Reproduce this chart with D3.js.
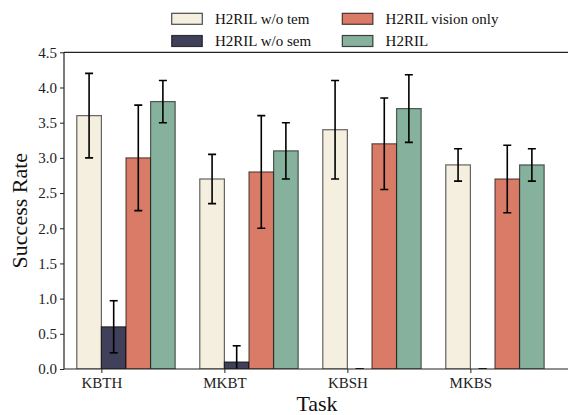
<!DOCTYPE html>
<html>
<head>
<meta charset="utf-8">
<script src="https://cdn.jsdelivr.net/npm/d3@7"></script>
<style>
  body { margin: 0; background: #fff; }
  svg { display: block; }
  svg text { font-family: "Liberation Serif", "Times New Roman", serif; }
</style>
</head>
<body>
<script>
const tasks = ['KBTH', 'MKBT', 'KBSH', 'MKBS'];
const seriesNames = ['H2RIL w/o tem', 'H2RIL w/o sem', 'H2RIL vision only', 'H2RIL'];
const seriesColors = ['#f5efe0', '#40405a', '#d97b66', '#86b19c'];

const woTem = [3.6, 2.7, 3.4, 2.9];
const woTemErr = [0.6, 0.35, 0.7, 0.23];
const woSem = [0.6, 0.1, 0.0, 0.0];
const woSemErr = [0.37, 0.23, 0.0, 0.0];
const visionOnly = [3.0, 2.8, 3.2, 2.7];
const visionOnlyErr = [0.75, 0.8, 0.65, 0.48];
const full = [3.8, 3.1, 3.7, 2.9];
const fullErr = [0.3, 0.4, 0.48, 0.23];

const yTicks = [0, 0.5, 1, 1.5, 2, 2.5, 3, 3.5, 4, 4.5];

const values = [woTem, woSem, visionOnly, full];
const errors = [woTemErr, woSemErr, visionOnlyErr, fullErr];

const width = 568;
const height = 415;
const plotLeft = 64, plotRight = 570, plotTop = 52.3, plotBottom = 369;
const barW = 0.2;
const serif = '"Liberation Serif", "Times New Roman", serif';

const xScale = d3.scaleLinear()
    .domain([-0.304, 3.81])
    .range([plotLeft, plotRight]);

const yScale = d3.scaleLinear()
    .domain([0, 4.5])
    .range([plotBottom, plotTop]);

const svg = d3.select('body')
    .append('svg')
    .attr('width', width)
    .attr('height', height);

svg.append('defs').append('clipPath')
    .attr('id', 'plot')
    .append('rect')
    .attr('x', plotLeft).attr('y', plotTop)
    .attr('width', plotRight - plotLeft).attr('height', plotBottom - plotTop);

// flatten to one record per bar
const bars = [];
values.forEach((vals, s) => {
    vals.forEach((v, t) => {
        bars.push({ s: s, t: t, v: v, e: errors[s][t] });
    });
});

const plot = svg.append('g').attr('clip-path', 'url(#plot)');

plot.selectAll('rect.bar')
    .data(bars)
    .enter()
    .append('rect')
    .attr('class', 'bar')
    .attr('x', d => xScale(d.t + (d.s - 1) * barW))
    .attr('y', d => yScale(d.v))
    .attr('width', d => xScale(barW) - xScale(0))
    .attr('height', d => yScale(0) - yScale(d.v))
    .attr('fill', d => seriesColors[d.s])
    .attr('stroke', '#000')
    .attr('stroke-opacity', 0.6)
    .attr('stroke-width', 1.2);

// error bars
const cap = 4;
const errG = plot.selectAll('g.err')
    .data(bars)
    .enter()
    .append('g')
    .attr('class', 'err')
    .attr('stroke', '#000')
    .attr('stroke-width', 1.6);

errG.append('line')
    .attr('x1', d => xScale(d.t + (d.s - 0.5) * barW))
    .attr('x2', d => xScale(d.t + (d.s - 0.5) * barW))
    .attr('y1', d => yScale(d.v - d.e))
    .attr('y2', d => yScale(d.v + d.e));

[-1, 1].forEach(sign => {
    errG.append('line')
        .attr('x1', d => xScale(d.t + (d.s - 0.5) * barW) - cap)
        .attr('x2', d => xScale(d.t + (d.s - 0.5) * barW) + cap)
        .attr('y1', d => yScale(d.v + sign * d.e))
        .attr('y2', d => yScale(d.v + sign * d.e));
});

// y axis
const yAxis = svg.append('g')
    .attr('transform', `translate(${plotLeft},0)`)
    .call(d3.axisLeft(yScale).tickValues(yTicks).tickFormat(d3.format('.1f')).tickSize(4).tickPadding(3));
yAxis.select('.domain').remove();
yAxis.selectAll('text')
    .style('font-family', serif)
    .style('font-size', '15px')
    .attr('fill', '#222');
yAxis.selectAll('line').attr('stroke', '#222');

// x axis
const xAxis = svg.append('g')
    .attr('transform', `translate(0,${plotBottom})`)
    .call(d3.axisBottom(xScale).tickValues(d3.range(tasks.length)).tickFormat(i => tasks[i]).tickSize(4).tickPadding(4));
xAxis.select('.domain').remove();
xAxis.selectAll('text')
    .style('font-family', serif)
    .style('font-size', '15px')
    .attr('fill', '#222');
xAxis.selectAll('line').attr('stroke', '#222');

// spines
svg.append('line')
    .attr('x1', plotLeft).attr('x2', plotRight)
    .attr('y1', plotBottom).attr('y2', plotBottom)
    .attr('stroke', '#222').attr('stroke-width', 1.2);
svg.append('line')
    .attr('x1', plotLeft).attr('x2', plotRight)
    .attr('y1', plotTop).attr('y2', plotTop)
    .attr('stroke', '#222').attr('stroke-width', 1.2);
svg.append('line')
    .attr('x1', plotLeft).attr('x2', plotLeft)
    .attr('y1', plotTop).attr('y2', plotBottom)
    .attr('stroke', '#222').attr('stroke-width', 1.2);

// axis labels
svg.append('text')
    .attr('x', 317)
    .attr('y', 411)
    .attr('text-anchor', 'middle')
    .attr('font-size', 22)
    .attr('fill', '#111')
    .text('Task');

svg.append('text')
    .attr('transform', `translate(19,${(plotTop + plotBottom) / 2}) rotate(-90)`)
    .attr('text-anchor', 'middle')
    .attr('dominant-baseline', 'central')
    .attr('font-size', 22)
    .attr('fill', '#111')
    .text('Success Rate');

// legend, two columns
const legendPos = [[171.7, 13.3], [171.7, 35.5], [342.3, 13.3], [342.3, 35.5]];
const legend = svg.selectAll('g.legend')
    .data(seriesNames)
    .enter()
    .append('g')
    .attr('class', 'legend')
    .attr('transform', (d, i) => `translate(${legendPos[i][0]},${legendPos[i][1]})`);

legend.append('rect')
    .attr('width', 30.6)
    .attr('height', 11)
    .attr('fill', (d, i) => seriesColors[i])
    .attr('stroke', '#000')
    .attr('stroke-opacity', 0.7)
    .attr('stroke-width', 1.2);

legend.append('text')
    .attr('x', 43.3)
    .attr('y', 10.5)
    .attr('font-size', 15)
    .attr('fill', '#111')
    .text(d => d);
</script>
</body>
</html>
